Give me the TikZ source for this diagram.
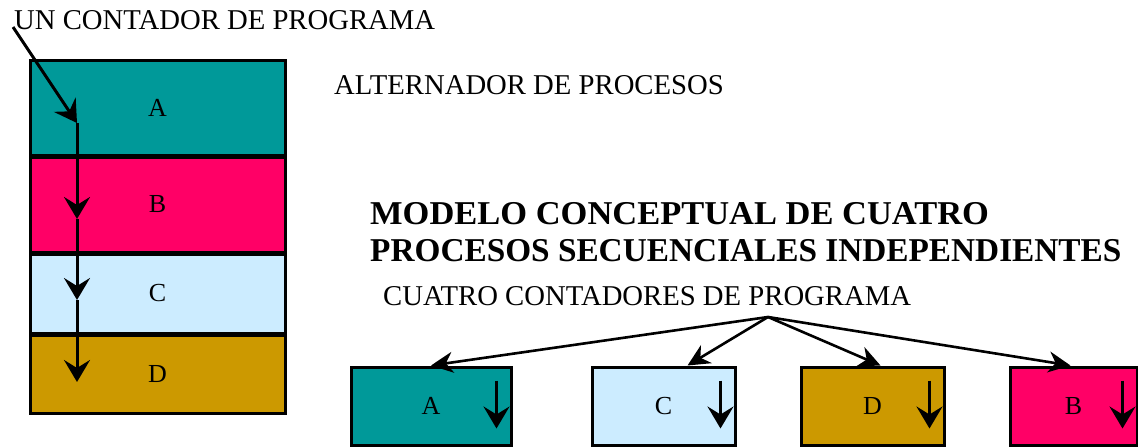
\documentclass[tikz,border=0pt]{standalone}
\usepackage{fontspec}
\setmainfont{Liberation Serif}
\usetikzlibrary{arrows.meta}
\definecolor{procA}{HTML}{009999}
\definecolor{procB}{HTML}{FF0066}
\definecolor{procC}{HTML}{CCECFF}
\definecolor{procD}{HTML}{CC9900}
\newcommand{\titlefont}{\fontsize{28.7}{30}\selectfont}
\newcommand{\boldfont}{\fontsize{33.3}{35}\selectfont\bfseries}
\tikzset{
  proc/.style={draw, line width=3pt, inner sep=0pt, font=\fontsize{26}{28}\selectfont},
  pc/.style={line width=3pt, -{Stealth[length=22pt,width=26pt,inset=8pt]}},
  cnt/.style={line width=2.6pt, -{Stealth[length=22pt,width=21pt,inset=7pt]}},
  txt/.style={anchor=base west, inner sep=0pt}
}

\begin{document}
\begin{tikzpicture}[x=1pt,y=-1pt]
        \useasboundingbox (0,0) rectangle (1138,447);
        %alternador
        \node[proc, fill=procA, minimum width=255, minimum height=95] (lA) at (157.5,107.5) {A};
        \node[proc, fill=procB, minimum width=255, minimum height=95] (lB) at (157.5,204.5) {B};
        \node[proc, fill=procC, minimum width=255, minimum height=79] (lC) at (157.5,293.5) {C};
        \node[proc, fill=procD, minimum width=255, minimum height=78] (lD) at (157.5,374) {D};
        %cuatro procesos
        \node[proc, fill=procA, minimum width=160, minimum height=78] (bA) at (431,406) {A};
        \node[proc, fill=procC, minimum width=143, minimum height=78] (bC) at (663.5,406) {C};
        \node[proc, fill=procD, minimum width=143, minimum height=78] (bD) at (872.5,406) {D};
        \node[proc, fill=procB, minimum width=127, minimum height=78] (bB) at (1073.5,406) {B};
        %textos
        \node[txt, font=\titlefont] (ucp) at (14,29) {UN CONTADOR DE PROGRAMA};
        \node[txt, font=\titlefont] (alt) at (334,94) {ALTERNADOR DE PROCESOS};
        \node[txt, font=\boldfont] (mod1) at (370,224) {\scalebox{1.035}[1]{MODELO CONCEPTUAL DE CUATRO}};
        \node[txt, font=\boldfont] (mod2) at (370,261) {PROCESOS SECUENCIALES INDEPENDIENTES};
        \node[txt, font=\titlefont] (ccp) at (383,305) {CUATRO CONTADORES DE PROGRAMA};
        %un contador
        \coordinate (pc0) at (13,27);
        \coordinate (pc1) at (77,123);
        \coordinate (pc2) at (77,219);
        \coordinate (pc3) at (77,300);
        \coordinate (pc4) at (77,382);
        \draw[pc] (pc0) -- (pc1);
        \foreach \a/\b in {pc1/pc2, pc2/pc3, pc3/pc4} {
        \draw[pc] (\a) -- (\b);}
        %cuatro contadores
        \coordinate (cc) at (768,317);
        \draw[cnt] (cc) -- (bA.north);
        \draw[cnt] (cc) -- ([xshift=24]bC.north);
        \draw[cnt] (cc) -- ([xshift=8]bD.north);
        \draw[cnt] (cc) -- ([xshift=-3]bB.north);
        \foreach \b in {bA, bC, bD, bB} {
        \draw[pc, line width=2.6pt] ([xshift=-16, yshift=-15]\b.north east) -- ++(0,48);}
\end{tikzpicture}
\end{document}
